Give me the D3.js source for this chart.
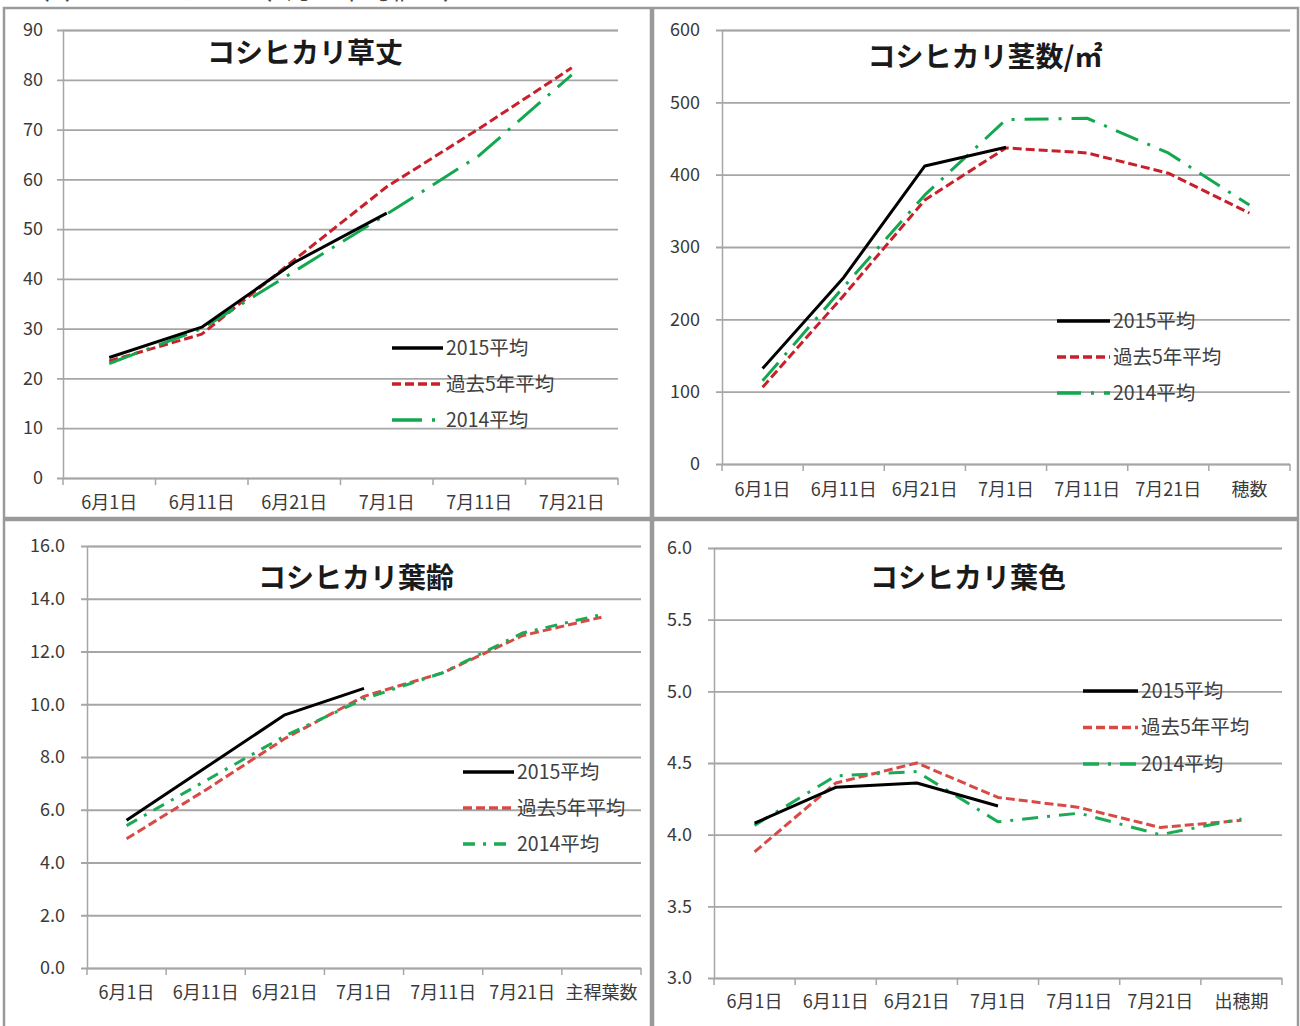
<!DOCTYPE html>
<html>
<head>
<meta charset="utf-8">
<script src="https://cdn.jsdelivr.net/npm/d3@7"></script>
<style>
  html, body { margin: 0; padding: 0; background: #fff; }
  svg { display: block; }
  text { font-family: "Noto Sans CJK JP", "Noto Sans", sans-serif; }
</style>
</head>
<body>
<svg id="chart" width="1300" height="1026"></svg>
<script>
// ---- categories (x axis) ----
const datesBase = ["6月1日", "6月11日", "6月21日", "7月1日", "7月11日", "7月21日"];
const datesStems = [...datesBase, "穂数"];
const datesLeafAge = [...datesBase, "主稈葉数"];
const datesLeafColor = [...datesBase, "出穂期"];

// ---- series names ----
const seriesNames = ["2015平均", "過去5年平均", "2014平均"];

// ---- 草丈 (cm) ----
const height2015 = [24.2, 30.3, 43.3, 53.2];
const heightPast5 = [23.5, 28.9, 43.8, 58.5, 70.2, 82.4];
const height2014 = [23.0, 30.0, 41.5, 53.0, 64.8, 81.0];

// ---- 茎数/㎡ ----
const stems2015 = [132, 258, 412, 438];
const stemsPast5 = [106, 233, 365, 437, 430, 402, 347];
const stems2014 = [115, 245, 372, 476, 478, 430, 358];

// ---- 葉齢 ----
const leafAge2015 = [5.6, 7.6, 9.6, 10.6];
const leafAgePast5 = [4.9, 6.75, 8.7, 10.3, 11.2, 12.6, 13.3];
const leafAge2014 = [5.4, 7.1, 8.8, 10.2, 11.2, 12.7, 13.4];

// ---- 葉色 ----
const leafColor2015 = [4.08, 4.33, 4.36, 4.2];
const leafColorPast5 = [3.88, 4.36, 4.5, 4.26, 4.19, 4.05, 4.1];
const leafColor2014 = [4.065, 4.41, 4.44, 4.09, 4.15, 4.0, 4.11];

// ---- y axis ticks ----
const heightTicks = [0, 10, 20, 30, 40, 50, 60, 70, 80, 90];
const stemsTicks = [0, 100, 200, 300, 400, 500, 600];
const leafAgeTicks = [0, 2, 4, 6, 8, 10, 12, 14, 16];
const leafColorTicks = [3.0, 3.5, 4.0, 4.5, 5.0, 5.5, 6.0];

const svg = d3.select("#chart");

// page heading (runs off the top edge of the sheet)
svg.append("text")
  .attr("x", 24).attr("y", -1)
  .attr("font-size", 26).attr("fill", "#444")
  .text("（2）　コシヒカリ　（5月上中旬植え）");

// panel frames
const frames = [
  { x: 4, y: 8, w: 647, h: 510 },
  { x: 653, y: 8, w: 645, h: 510 },
  { x: 4, y: 520, w: 647, h: 510 },
  { x: 653, y: 520, w: 645, h: 510 }
];
svg.selectAll("rect.frame").data(frames).join("rect")
  .attr("class", "frame")
  .attr("x", d => d.x).attr("y", d => d.y)
  .attr("width", d => d.w).attr("height", d => d.h)
  .attr("fill", "#fff").attr("stroke", "#9a9a9a").attr("stroke-width", 2.5);

const panels = [
  {
    title: "コシヒカリ草丈", titleX: 305, titleY: 63,
    cats: datesBase, series: [height2015, heightPast5, height2014],
    ticks: heightTicks, fmt: d3.format("d"),
    left: 63, right: 618, top: 30, bottom: 478, labelGap: 20, xLabelDy: 31,
    legend: { x: 392, y: 348, len: 51, gap: 36 },
    red: "#c8202a", green: "#13a84f", greenDash: "30,10,3,10"
  },
  {
    title: "コシヒカリ茎数/㎡", titleX: 985, titleY: 67,
    cats: datesStems, series: [stems2015, stemsPast5, stems2014],
    ticks: stemsTicks, fmt: d3.format("d"),
    left: 722, right: 1290, top: 30, bottom: 464, labelGap: 22, xLabelDy: 32,
    legend: { x: 1057, y: 321, len: 53, gap: 36 },
    red: "#c8202a", green: "#13a84f", greenDash: "24,10,3,10"
  },
  {
    title: "コシヒカリ葉齢", titleX: 356, titleY: 588,
    cats: datesLeafAge, series: [leafAge2015, leafAgePast5, leafAge2014],
    ticks: leafAgeTicks, fmt: d3.format(".1f"),
    left: 87, right: 641, top: 546, bottom: 968, labelGap: 22, xLabelDy: 31,
    legend: { x: 463, y: 772, len: 51, gap: 36 },
    red: "#d84a45", green: "#1aab55", greenDash: "12,8,3,8"
  },
  {
    title: "コシヒカリ葉色", titleX: 968, titleY: 588,
    cats: datesLeafColor, series: [leafColor2015, leafColorPast5, leafColor2014],
    ticks: leafColorTicks, fmt: d3.format(".1f"),
    left: 714, right: 1282, top: 548, bottom: 978, labelGap: 22, xLabelDy: 30,
    legend: { x: 1083, y: 691, len: 55, gap: 36.5 },
    red: "#d84a45", green: "#1aab55", greenDash: "16,9,3,9"
  }
];

panels.forEach(p => {
  const g = svg.append("g");
  const w = p.right - p.left;

  const x = d3.scaleBand().domain(p.cats).range([p.left, p.right]).paddingInner(0).paddingOuter(0);
  const y = d3.scaleLinear()
    .domain([d3.min(p.ticks), d3.max(p.ticks)])
    .range([p.bottom, p.top]);

  // y axis with full-width gridlines
  const yAxis = g.append("g")
    .attr("transform", `translate(${p.left},0)`)
    .call(d3.axisLeft(y).tickValues(p.ticks).tickFormat(p.fmt).tickSize(-w).tickPadding(p.labelGap));
  yAxis.select(".domain").attr("stroke", "#a6a6a6").attr("stroke-width", 1.5);
  yAxis.selectAll(".tick line")
    .attr("x1", -6)
    .attr("stroke", "#a6a6a6").attr("stroke-width", 1.8);
  yAxis.selectAll(".tick text")
    .attr("font-size", 18).attr("fill", "#3a3a3a")
    .attr("font-family", '"Noto Sans CJK JP", sans-serif');

  // x axis: labels at category centres, tick marks on band edges
  const xAxis = g.append("g")
    .attr("transform", `translate(0,${p.bottom})`)
    .call(d3.axisBottom(x).tickSize(0).tickPadding(p.xLabelDy - 13));
  xAxis.select(".domain").remove();
  xAxis.selectAll(".tick text")
    .attr("font-size", 18).attr("fill", "#3a3a3a")
    .attr("font-family", '"Noto Sans CJK JP", sans-serif');

  const edges = p.cats.map(c => x(c)).concat([p.right]);
  g.append("g").selectAll("line").data(edges).join("line")
    .attr("x1", d => d).attr("x2", d => d)
    .attr("y1", p.bottom).attr("y2", p.bottom + 7)
    .attr("stroke", "#a6a6a6").attr("stroke-width", 1.5);

  // series lines
  const styles = [
    { color: "#000", dash: null },
    { color: p.red, dash: "9,4" },
    { color: p.green, dash: p.greenDash }
  ];
  const line = d3.line()
    .x((d, i) => x(p.cats[i]) + x.bandwidth() / 2)
    .y(d => y(d));

  const order = [1, 2, 0];
  order.forEach(si => {
    g.append("path")
      .datum(p.series[si])
      .attr("d", line)
      .attr("fill", "none")
      .attr("stroke", styles[si].color)
      .attr("stroke-width", 3)
      .attr("stroke-dasharray", styles[si].dash)
      .attr("stroke-linejoin", "round");
  });

  // title
  g.append("text")
    .attr("x", p.titleX).attr("y", p.titleY)
    .attr("text-anchor", "middle")
    .attr("font-size", 28).attr("font-weight", "bold").attr("fill", "#1a1a1a")
    .text(p.title);

  // legend
  const lg = g.append("g");
  seriesNames.forEach((name, i) => {
    const ly = p.legend.y + i * p.legend.gap;
    lg.append("line")
      .attr("x1", p.legend.x).attr("x2", p.legend.x + p.legend.len)
      .attr("y1", ly).attr("y2", ly)
      .attr("stroke", styles[i].color).attr("stroke-width", 3.5)
      .attr("stroke-dasharray", styles[i].dash);
    lg.append("text")
      .attr("x", p.legend.x + p.legend.len + 3).attr("y", ly)
      .attr("dy", "0.35em")
      .attr("font-size", 19.5).attr("fill", "#404040")
      .text(name);
  });
});
</script>
</body>
</html>
